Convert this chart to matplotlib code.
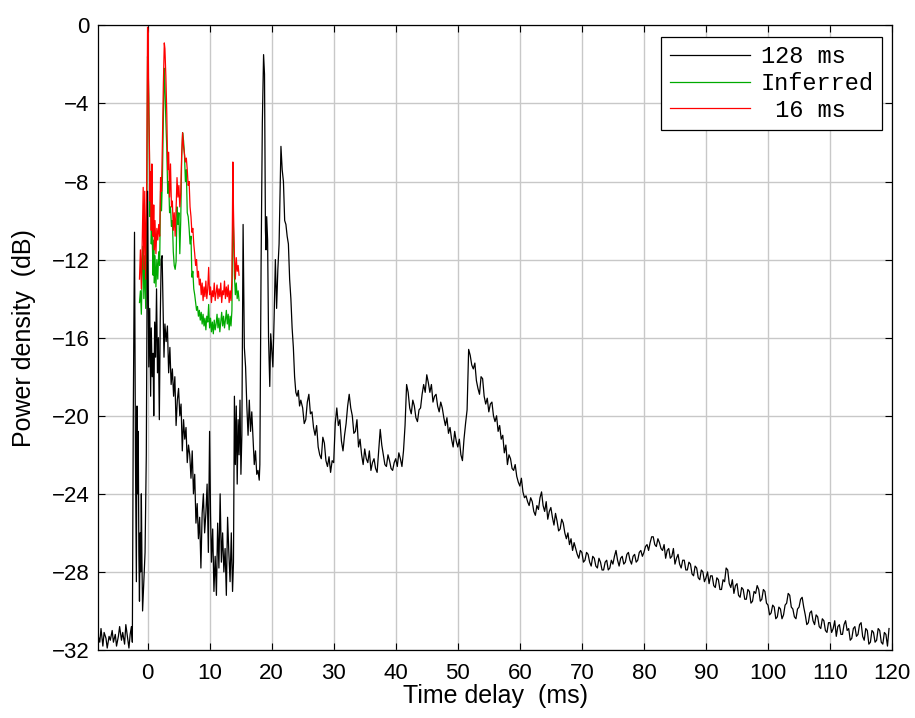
import numpy as np
import matplotlib
matplotlib.use("Agg")
import matplotlib.pyplot as plt

plt.rcParams['font.family'] = ['Liberation Sans', 'DejaVu Sans']

# 128 ms trace, early part (irregular times, ms) and dB values
early_t = [-8.0, -7.7, -7.5, -7.2, -7.0, -6.7, -6.5, -6.2, -6.0, -5.7, -5.5, -5.2, -5.0, -4.7, -4.5,
           -4.2, -4.0, -3.7, -3.5, -3.2, -3.0, -2.8, -2.6, -2.45,
           -2.3, -2.1, -1.95, -1.8, -1.7, -1.6, -1.5, -1.4, -1.3, -1.2, -1.1, -1.0, -0.9, -0.8, -0.6,
           -0.4, -0.2, 0.0, 0.1, 0.2, 0.35, 0.5, 0.6, 0.75, 0.9, 1.0, 1.15, 1.3, 1.45, 1.6, 1.75, 1.9,
           2.05, 2.2, 2.35, 2.5, 2.65, 2.8, 3.0, 3.2, 3.4, 3.6, 3.8, 4.0, 4.2, 4.4, 4.6, 4.8, 5.0, 5.2,
           5.4, 5.6, 5.8, 6.0, 6.2, 6.4, 6.6, 6.8, 7.0, 7.2, 7.4, 7.6, 7.8, 8.0, 8.2, 8.4, 8.6, 8.8,
           9.0, 9.2, 9.4, 9.6, 9.8, 10.0, 10.15, 10.3, 10.5, 10.7, 10.9, 11.1, 11.3, 11.5, 11.7, 11.9,
           12.1, 12.3, 12.5, 12.7, 12.9, 13.1, 13.3, 13.5, 13.7, 13.85, 14.0, 14.15, 14.3, 14.45, 14.6,
           14.75, 14.9, 15.05, 15.2, 15.4, 15.6, 15.8, 16.0, 16.2, 16.4, 16.6, 16.8, 17.0, 17.2, 17.4,
           17.6, 17.8, 18.0, 18.1, 18.3, 18.5, 18.7, 18.85, 19.0, 19.1, 19.2, 19.35, 19.5, 19.7, 19.85,
           20.0, 20.2, 20.4, 20.6, 20.8, 21.0, 21.2, 21.5, 21.7, 21.9, 22.1, 22.3, 22.5, 22.7, 22.9,
           23.1, 23.3, 23.5, 23.7, 23.9, 24.1, 24.3, 24.5, 24.7]
early_v = [-31.2, -31.6, -30.9, -31.8, -31.1, -31.4, -31.9, -31.3, -31.5, -31.0, -31.6, -31.2, -31.8,
           -31.3, -30.8, -31.5, -31.1, -31.7, -30.7, -31.4, -31.9, -31.2, -30.8, -31.6,
           -20.0, -10.6, -22.0, -28.5, -19.5, -24.0, -20.8, -27.0, -29.5, -26.0, -28.0, -24.0, -27.5,
           -30.0, -28.5, -27.0, -22.0, -8.5, -13.0, -17.5, -14.5, -19.0, -15.5, -18.0, -16.8, -20.0,
           -15.2, -17.0, -13.5, -17.8, -16.0, -20.2, -15.0, -12.0, -11.8, -14.5, -17.0, -15.3, -16.2,
           -15.4, -17.8, -16.5, -18.4, -17.6, -19.0, -18.0, -20.5, -19.2, -18.6, -20.0, -19.4, -21.8,
           -20.2, -21.2, -20.6, -22.4, -21.5, -22.0, -23.2, -21.8, -24.0, -23.0, -25.5, -24.5, -26.3,
           -25.2, -27.8, -25.0, -24.0, -26.0, -25.0, -23.5, -27.0, -20.8, -25.0, -27.5, -25.8, -29.0,
           -27.2, -29.2, -25.5, -27.8, -24.0, -27.5, -26.0, -28.0, -26.8, -29.2, -25.2, -27.0, -28.5,
           -26.0, -29.0, -27.5, -19.0, -22.5, -19.5, -23.5, -20.2, -22.0, -19.2, -23.0, -21.0, -10.2,
           -16.5, -17.5, -19.5, -21.0, -19.2, -20.8, -19.8, -21.2, -22.5, -21.8, -23.0, -22.8, -23.3,
           -22.5, -12.2, -5.0, -1.5, -2.5, -10.5, -11.5, -9.8, -11.0, -16.0, -18.5, -15.8, -16.5,
           -17.5, -15.0, -12.0, -14.5, -12.5, -11.2, -6.2, -7.4, -8.0, -10.0, -10.2, -10.8, -11.2,
           -13.0, -14.0, -15.5, -16.5, -18.0, -18.8, -19.0, -18.7, -19.5, -19.2]

# 128 ms trace, late part: samples every 0.25 ms starting at 25 ms
late_t0 = 25.0
late_dt = 0.25
late_v = [-19.6, -20.4, -20.2, -19.3, -18.9, -19.9, -19.8, -20.6, -21.0, -20.5,
          -21.6, -22.0, -22.2, -21.1, -21.4, -22.3, -22.6, -22.1, -22.9, -22.3,
          -22.4, -20.4, -19.6, -20.5, -20.2, -21.3, -21.8, -21.0, -20.4, -19.5,
          -18.9, -19.6, -20.0, -20.9, -20.8, -20.2, -21.6, -21.2, -22.0, -22.5,
          -21.7, -22.2, -22.4, -21.8, -22.8, -22.4, -22.2, -22.7, -22.9, -21.8,
          -20.7, -21.5, -22.0, -22.5, -22.6, -22.0, -22.3, -22.7, -22.8, -22.4,
          -22.2, -22.6, -21.9, -22.2, -22.6, -21.8, -20.5, -18.4, -18.8, -19.6,
          -19.9, -19.2, -19.5, -20.1, -20.3, -19.7, -19.6, -18.9, -18.4, -18.8,
          -17.9, -18.3, -18.8, -18.4, -19.3, -19.0, -18.9, -19.5, -19.8, -19.3,
          -19.6, -20.1, -20.5, -20.1, -20.9, -20.6, -21.2, -21.6, -20.8, -21.3,
          -21.6, -21.2, -22.0, -22.3, -21.2, -20.4, -19.7, -16.6, -16.9, -17.4,
          -17.6, -17.3, -18.2, -18.6, -18.9, -18.0, -18.1, -19.0, -19.4, -19.1,
          -19.8, -19.4, -19.3, -20.0, -20.3, -20.0, -20.8, -20.5, -21.2, -21.0,
          -21.9, -21.5, -22.5, -22.0, -22.2, -22.7, -22.8, -22.5, -23.1, -23.4,
          -23.6, -23.2, -23.9, -24.2, -24.1, -24.4, -24.6, -24.2, -24.4, -24.9,
          -25.1, -24.6, -24.8, -24.2, -23.9, -24.6, -24.9, -24.4, -25.3, -24.9,
          -24.7, -25.2, -25.6, -25.0, -25.4, -25.9, -25.8, -25.3, -25.5, -26.0,
          -26.3, -26.0, -26.6, -26.3, -26.9, -26.5, -26.8, -27.1, -27.3, -26.9,
          -27.0, -27.5, -27.4, -27.0, -27.1, -27.5, -27.7, -27.2, -27.3, -27.7,
          -27.8, -27.3, -27.5, -27.9, -27.9, -27.5, -27.4, -27.9, -27.8, -27.4,
          -27.6, -27.2, -26.9, -27.4, -27.7, -27.3, -27.2, -27.6, -27.5, -27.1,
          -27.0, -27.4, -27.6, -27.2, -27.1, -27.5, -27.4, -27.0, -26.9, -27.2,
          -27.0, -26.7, -26.6, -26.9, -26.5, -26.2, -26.2, -26.6, -26.7, -26.3,
          -26.5, -26.8, -26.9, -26.6, -27.3, -26.9, -26.8, -27.3, -27.2, -26.8,
          -27.6, -27.3, -27.1, -27.6, -27.8, -27.4, -27.4, -27.9, -27.9, -27.5,
          -27.6, -28.1, -28.2, -27.7, -27.8, -28.3, -28.4, -27.9, -28.0, -28.5,
          -28.3, -28.0, -28.6, -28.2, -28.2, -28.7, -28.8, -28.3, -28.4, -28.9,
          -28.9, -28.4, -28.5, -27.8, -27.9, -28.6, -28.8, -28.4, -29.1, -28.7,
          -28.6, -29.2, -29.3, -28.8, -28.9, -29.4, -29.4, -28.9, -29.0, -29.6,
          -29.5, -29.0, -29.1, -28.7, -28.9, -29.5, -29.4, -28.9, -29.0, -29.6,
          -29.7, -30.2, -30.1, -29.7, -29.8, -30.4, -30.3, -29.8, -29.9, -30.4,
          -30.2, -29.7, -29.6, -29.1, -29.2, -29.8, -29.9, -30.3, -30.4, -29.9,
          -29.8, -29.4, -29.3, -29.8, -30.2, -30.7, -30.6, -30.1, -30.0, -30.5,
          -30.7, -30.2, -30.3, -30.8, -30.9, -30.4, -30.5, -31.0, -31.1, -30.6,
          -30.6, -31.1, -30.9, -30.5, -31.3, -30.8, -30.7, -31.2, -31.2, -30.7,
          -30.5, -31.0, -30.9, -31.5, -31.4, -30.9, -30.8, -31.3, -31.2, -30.7,
          -30.6, -31.3, -31.5, -30.9, -31.0, -31.7, -31.6, -31.0, -31.1, -31.6,
          -31.5, -30.9, -31.0, -31.6, -31.7, -31.1, -31.2, -31.8, -30.9]

# 16 ms and inferred traces share one time base
short_t = [-1.3, -1.15, -1.0, -0.85, -0.7, -0.6, -0.45, -0.3, -0.15, 0.0, 0.1, 0.2, 0.3, 0.4, 0.5,
           0.6, 0.7, 0.8, 0.9, 1.0, 1.1, 1.2, 1.35, 1.5, 1.65, 1.8, 1.95, 2.1, 2.25, 2.4, 2.55, 2.7,
           2.8, 2.95, 3.1, 3.25, 3.4, 3.55, 3.7, 3.85, 4.0, 4.15, 4.3, 4.45, 4.6, 4.75, 4.9, 5.05,
           5.2, 5.35, 5.5, 5.65, 5.8, 5.95, 6.1, 6.25, 6.4, 6.55, 6.7, 6.85, 7.0, 7.15, 7.3, 7.45,
           7.6, 7.75, 7.9, 8.05, 8.2, 8.35, 8.5, 8.65, 8.8, 8.95, 9.1, 9.25, 9.4, 9.55, 9.7, 9.85,
           10.0, 10.15, 10.3, 10.45, 10.6, 10.75, 10.9, 11.05, 11.2, 11.35, 11.5, 11.65, 11.8, 11.95,
           12.1, 12.25, 12.4, 12.55, 12.7, 12.85, 13.0, 13.15, 13.3, 13.45, 13.6, 13.75, 13.85, 14.0,
           14.15, 14.3, 14.45, 14.6, 14.75]
red_v = [-13.0, -11.5, -13.5, -11.0, -8.3, -12.5, -8.5, -13.0, -9.0, -0.1, -0.3, -4.5, -6.2, -9.0,
         -7.5, -10.5, -7.1, -9.8, -10.8, -9.2, -11.5, -10.0, -11.7, -10.4, -11.0, -10.2, -10.8, -7.8,
         -8.5, -5.9, -3.0, -0.9, -1.2, -2.6, -4.5, -7.4, -6.5, -8.8, -7.1, -9.3, -9.0, -10.5, -9.6,
         -10.8, -9.4, -7.8, -8.8, -8.2, -9.3, -8.6, -6.6, -5.5, -6.2, -6.6, -7.0, -6.8, -7.4, -8.2,
         -8.0, -9.3, -9.8, -10.6, -10.4, -11.2, -11.7, -12.3, -12.0, -12.9, -12.6, -13.3, -13.0,
         -13.8, -13.2, -14.1, -13.4, -13.9, -13.1, -14.0, -13.5, -12.4, -13.8, -13.4, -14.2, -13.6,
         -13.9, -13.2, -14.1, -13.7, -13.3, -14.0, -13.5, -13.9, -13.2, -14.2, -13.6, -13.8, -13.1,
         -14.0, -13.4, -13.9, -13.3, -14.2, -13.6, -14.1, -13.0, -7.0, -9.5, -11.8, -13.0, -11.9,
         -12.6, -12.3, -12.8]
green_v = [-14.2, -13.6, -14.8, -12.5, -11.3, -14.0, -11.8, -14.5, -12.0, -1.6, -2.2, -3.7, -6.5,
           -9.8, -8.3, -11.2, -10.3, -11.5, -12.8, -11.0, -13.2, -11.8, -13.4, -12.0, -13.0, -11.6,
           -12.3, -8.5, -9.5, -7.8, -4.8, -2.2, -3.0, -4.9, -6.3, -8.6, -8.0, -9.6, -9.3, -10.3,
           -10.0, -11.6, -12.3, -12.5, -12.1, -9.3, -10.2, -9.6, -11.7, -10.0, -6.8, -5.5, -5.9,
           -6.6, -8.0, -7.4, -9.6, -9.8, -10.4, -11.2, -10.8, -12.9, -12.6, -13.5, -13.8, -14.2,
           -14.6, -14.4, -14.9, -14.6, -15.1, -14.7, -15.3, -14.8, -15.4, -15.0, -15.6, -14.9, -15.2,
           -14.3, -15.5, -15.0, -15.7, -15.2, -15.8, -15.1, -15.6, -15.3, -14.8, -15.5, -15.0, -15.7,
           -15.2, -14.7, -15.4, -14.9, -15.5, -15.1, -14.6, -15.3, -14.8, -15.6, -14.9, -15.4, -14.6,
           -9.2, -10.5, -12.8, -13.8, -13.2, -14.0, -13.6, -14.1]

late_t = late_t0 + late_dt * np.arange(len(late_v))
black_t = np.concatenate([early_t, late_t])
black_v = np.concatenate([early_v, late_v])

fig = plt.figure(figsize=(9.15, 7.18), dpi=100)
ax = fig.add_axes([0.107, 0.0947, 0.868, 0.870])

l1, = ax.plot(black_t, black_v, color='black', lw=0.9, zorder=4)
l2, = ax.plot(short_t, green_v, color='#00aa00', lw=0.9, zorder=2)
l3, = ax.plot(short_t, red_v, color='red', lw=0.9, zorder=3)

ax.set_xlim(-8, 120)
ax.set_ylim(-32, 0)
ax.set_xticks(np.arange(0, 121, 10))
ax.set_yticks(np.arange(-32, 1, 4))
ax.grid(True, color='#c8c8c8', lw=1.0)
ax.set_axisbelow(True)
ax.tick_params(direction='in', length=5, width=0.8, top=True, right=True, labelsize=16)
ax.tick_params(axis='x', pad=9)
ax.tick_params(axis='y', pad=6)
for s in ax.spines.values():
    s.set_linewidth(0.9)

ax.set_xlabel('Time delay  (ms)', fontsize=18, labelpad=0)
ax.set_ylabel('Power density  (dB)', fontsize=18, labelpad=11)

leg = ax.legend([l1, l2, l3], ['128 ms', 'Inferred', ' 16 ms'], loc='upper right',
                bbox_to_anchor=(0.987, 0.981), borderaxespad=0, fancybox=False,
                edgecolor='black', framealpha=1, handlelength=3.4, handletextpad=0.45,
                labelspacing=0.15, borderpad=0.35,
                prop={'family': 'Liberation Mono', 'size': 17})
leg.get_frame().set_linewidth(0.9)

fig.savefig('out.png', dpi=100)
